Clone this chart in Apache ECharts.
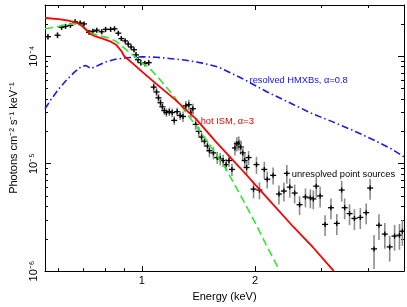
<!DOCTYPE html>
<html><head><meta charset="utf-8">
<script src="https://cdn.jsdelivr.net/npm/echarts@6/dist/echarts.min.js"></script>
<style>html,body{margin:0;padding:0;background:#fff}#c{width:407px;height:307px}</style>
</head><body><div id="c"></div>
<script>
// ---- axis ranges & ticks ----
const xRange = [0.553, 4.97];
const yRange = [1e-6, 3e-4];
const xLabelTicks = [1, 2];
const xMajorTicks = [1, 2];
const xMinorTicks = [0.6, 0.7, 0.8, 0.9, 3, 4];
const yLabelTicks = [1e-6, 1e-5, 1e-4];
const yMajorTicks = [1e-6, 1e-5, 1e-4];
const yMinorTicks = [2e-6,3e-6,4e-6,5e-6,6e-6,7e-6,8e-6,9e-6,2e-5,3e-5,4e-5,5e-5,6e-5,7e-5,8e-5,9e-5,2e-4];

// ---- data points (keV, photons cm^-2 s^-1 keV^-1, relative error) ----
const dataE = [0.563,0.597,0.612,0.627,0.646,0.665,0.686,0.702,0.724,0.741,0.759,0.782,0.801,0.826,0.846,0.866,0.882,0.903,0.920,0.936,0.953,0.965,0.976,0.994,1.018,1.043,1.075,1.094,1.107,1.121,1.134,1.148,1.162,1.183,1.204,1.219,1.241,1.264,1.286,1.309,1.333,1.349,1.366,1.390,1.416,1.441,1.467,1.494,1.512,1.549,1.586,1.615,1.644,1.674,1.704,1.735,1.767,1.788,1.810,1.831,1.854,1.876,1.898,1.921,1.980,2.016,2.053,2.115,2.153,2.232,2.313,2.384,2.427,2.471,2.546,2.624,2.720,2.803,2.854,2.906,2.976,3.067,3.179,3.295,3.395,3.457,3.562,3.670,3.805,3.944,4.040,4.138,4.264,4.420,4.554,4.692,4.834,4.921];
const dataF = [1.52e-4,1.57e-4,1.86e-4,1.90e-4,1.94e-4,2.09e-4,2.04e-4,2.00e-4,1.67e-4,1.71e-4,1.75e-4,1.69e-4,1.78e-4,1.78e-4,1.80e-4,1.64e-4,1.46e-4,1.39e-4,1.30e-4,1.22e-4,1.15e-4,1.03e-4,9.29e-5,8.72e-5,8.54e-5,8.72e-5,5.16e-5,4.65e-5,4.10e-5,3.69e-5,3.39e-5,3.12e-5,2.99e-5,3.05e-5,2.99e-5,2.53e-5,3.05e-5,2.81e-5,2.75e-5,3.46e-5,3.54e-5,2.99e-5,3.25e-5,2.32e-5,2.00e-5,1.77e-5,1.62e-5,1.46e-5,1.32e-5,1.26e-5,1.14e-5,1.11e-5,1.07e-5,9.81e-6,1.07e-5,8.84e-6,1.40e-5,1.53e-5,1.56e-5,1.43e-5,1.26e-5,1.07e-5,9.21e-6,1.14e-5,5.80e-6,9.81e-6,5.68e-6,8.84e-6,7.16e-6,7.79e-6,5.22e-6,5.56e-6,8.12e-6,6.05e-6,5.33e-6,4.15e-6,4.90e-6,4.80e-6,4.70e-6,6.18e-6,5.01e-6,2.72e-6,3.89e-6,2.78e-6,5.68e-6,3.89e-6,3.43e-6,3.09e-6,3.16e-6,3.50e-6,5.93e-6,1.61e-6,2.67e-6,2.21e-6,1.68e-6,2.12e-6,2.16e-6,2.35e-6];
const dataErr = [0.065,0.065,0.05,0.05,0.05,0.05,0.05,0.05,0.05,0.05,0.05,0.05,0.05,0.05,0.05,0.05,0.05,0.05,0.05,0.05,0.05,0.065,0.065,0.065,0.065,0.065,0.09,0.09,0.09,0.09,0.09,0.09,0.09,0.09,0.09,0.09,0.09,0.09,0.11,0.11,0.11,0.11,0.11,0.11,0.11,0.11,0.11,0.11,0.13,0.13,0.13,0.13,0.13,0.13,0.13,0.13,0.15,0.15,0.15,0.15,0.15,0.15,0.15,0.15,0.18,0.18,0.18,0.18,0.18,0.18,0.2,0.2,0.2,0.2,0.2,0.2,0.2,0.2,0.2,0.22,0.22,0.22,0.22,0.22,0.22,0.22,0.22,0.22,0.22,0.22,0.22,0.35,0.27,0.27,0.27,0.27,0.27,0.27];

// ---- hot ISM model (red) ----
const ismE = [0.553,0.601,0.638,0.669,0.694,0.711,0.724,0.746,0.787,0.826,0.856,0.882,0.898,0.947,1.006,1.094,1.219,1.390,1.567,1.820,2.140,2.531,2.854,3.236];
const ismF = [2.27e-4,2.22e-4,2.15e-4,2.06e-4,1.92e-4,1.78e-4,1.64e-4,1.55e-4,1.46e-4,1.37e-4,1.27e-4,1.12e-4,1.00e-4,8.54e-5,7.07e-5,5.50e-5,4.01e-5,2.63e-5,1.62e-5,9.21e-6,4.90e-6,2.56e-6,1.65e-6,1.00e-6];

// ---- green dashed model ----
const modelE = [0.553,0.583,0.619,0.661,0.686,0.706,0.728,0.764,0.811,0.851,0.882,0.914,0.953,1.000,1.062,1.127,1.197,1.271,1.390,1.521,1.664,1.820,1.992,2.140,2.313];
const modelF = [1.80e-4,1.86e-4,1.94e-4,2.02e-4,1.96e-4,1.78e-4,1.66e-4,1.57e-4,1.49e-4,1.39e-4,1.26e-4,1.13e-4,1.01e-4,8.72e-5,7.37e-5,5.85e-5,4.55e-5,3.46e-5,2.27e-5,1.46e-5,9.21e-6,5.22e-6,2.90e-6,1.75e-6,1.04e-6];

// ---- resolved HMXBs (blue dash-dot) ----
const hmxbE = [0.553,0.573,0.601,0.630,0.661,0.690,0.711,0.732,0.764,0.806,0.851,0.914,1.000,1.094,1.197,1.309,1.450,1.596,1.843,2.153,2.531,2.854,3.217,3.626,4.088,4.608,5.0];
const hmxbF = [3.25e-5,3.93e-5,4.95e-5,5.98e-5,7.07e-5,8.02e-5,8.19e-5,7.69e-5,8.19e-5,8.91e-5,9.39e-5,9.69e-5,9.90e-5,9.79e-5,9.49e-5,9.19e-5,8.63e-5,7.94e-5,6.23e-5,4.65e-5,3.54e-5,2.89e-5,2.45e-5,2.05e-5,1.69e-5,1.37e-5,1.14e-5];

// ---- annotations ----
const noteText = ['resolved HMXBs, \u03b1=0.8', 'hot ISM, \u03b1=3', 'unresolved point sources'];
const noteE = [1.933, 1.433, 2.501];
const noteF = [5.98e-5, 2.45e-5, 7.87e-6];
const noteColor = ['#1010f0', '#f00000', '#000000'];

const L = Math.log10;
const FONT = 'Liberation Sans, Arial, Helvetica, sans-serif';
const supMap = {'-':'\u207b','0':'\u2070','1':'\u00b9','2':'\u00b2','3':'\u00b3','4':'\u2074','5':'\u2075','6':'\u2076','7':'\u2077','8':'\u2078','9':'\u2079'};
const sup = s => String(s).split('').map(c => supMap[c]).join('');

function xAx(pos, ticks, len, showLine, showLabel) {
  return {
    type: 'value', position: pos, gridIndex: 0,
    min: L(xRange[0]), max: L(xRange[1]),
    splitLine: {show: false},
    axisLine: {show: showLine, onZero: false, lineStyle: {color: '#000', width: 1}},
    axisTick: {show: true, inside: true, length: len, customValues: ticks.map(L), lineStyle: {color: '#000', width: 1}},
    axisLabel: {show: showLabel, customValues: xLabelTicks.map(L), margin: 4,
      color: '#000', fontSize: 11, fontFamily: FONT,
      formatter: v => String(Math.round(Math.pow(10, v)))},
    name: showLabel ? 'Energy (keV)' : '', nameLocation: 'middle', nameGap: 17,
    nameTextStyle: {color: '#000', fontSize: 11, fontFamily: FONT}
  };
}
function yAx(pos, ticks, len, showLine, showLabel) {
  return {
    type: 'value', position: pos, gridIndex: 0,
    min: L(yRange[0]), max: L(yRange[1]),
    splitLine: {show: false},
    axisLine: {show: showLine, onZero: false, lineStyle: {color: '#000', width: 1}},
    axisTick: {show: true, inside: true, length: len, customValues: ticks.map(L), lineStyle: {color: '#000', width: 1}},
    axisLabel: {show: showLabel, customValues: yLabelTicks.map(L), margin: 6, rotate: 90,
      color: '#000', fontSize: 11, fontFamily: FONT,
      formatter: v => '10' + sup(Math.round(v))},
    name: showLabel ? 'Photons cm\u207b\u00b2 s\u207b\u00b9 keV\u207b\u00b9' : '',
    nameLocation: 'middle', nameGap: 26, nameRotate: 90,
    nameTextStyle: {color: '#000', fontSize: 11, fontFamily: FONT}
  };
}

const pts = dataE.map((e, i) => [L(e), L(dataF[i]), L(dataF[i] * (1 - dataErr[i])), L(dataF[i] * (1 + dataErr[i]))]);

const chart = echarts.init(document.getElementById('c'), null, {renderer: 'canvas'});
chart.setOption({
  animation: false,
  backgroundColor: '#fff',
  grid: {left: 37, right: 3, top: 5, bottom: 31, containLabel: false},
  xAxis: [
    xAx('bottom', xMinorTicks, 3, true, true),
    xAx('bottom', xMajorTicks, 5, false, false),
    xAx('top', xMinorTicks, 3, true, false),
    xAx('top', xMajorTicks, 5, false, false)
  ],
  yAxis: [
    yAx('left', yMinorTicks, 3, true, true),
    yAx('left', yMajorTicks, 6, false, false),
    yAx('right', yMinorTicks, 3, true, false),
    yAx('right', yMajorTicks, 6, false, false)
  ],
  series: [
    {
      type: 'custom', xAxisIndex: 0, yAxisIndex: 0, clip: true,
      data: pts, encode: {x: 0, y: 1},
      renderItem: (params, api) => {
        const e = api.value(0);
        const c = api.coord([e, api.value(1)]);
        const lo = api.coord([e, api.value(2)]);
        const hi = api.coord([e, api.value(3)]);
        return {type: 'group', children: [
          {type: 'line', shape: {x1: c[0], y1: hi[1], x2: c[0], y2: lo[1]}, style: {stroke: '#8c8c8c', lineWidth: 1.6}},
          {type: 'line', shape: {x1: c[0] - 3, y1: c[1], x2: c[0] + 3, y2: c[1]}, style: {stroke: '#000', lineWidth: 1.3}},
          {type: 'line', shape: {x1: c[0], y1: c[1] - 2.5, x2: c[0], y2: c[1] + 2.5}, style: {stroke: '#000', lineWidth: 1.3}}
        ]};
      },
      z: 3
    },
    {
      type: 'line', xAxisIndex: 0, yAxisIndex: 0, clip: true, showSymbol: false, symbol: 'none',
      data: hmxbE.map((e, i) => [L(e), L(hmxbF[i])]),
      lineStyle: {color: '#1a1aee', width: 1.6, type: [7, 3, 1.5, 3]}, z: 4
    },
    {
      type: 'line', xAxisIndex: 0, yAxisIndex: 0, clip: true, showSymbol: false, symbol: 'none',
      data: modelE.map((e, i) => [L(e), L(modelF[i])]),
      lineStyle: {color: '#33e633', width: 1.6, type: [8, 4]}, z: 5
    },
    {
      type: 'line', xAxisIndex: 0, yAxisIndex: 0, clip: true, showSymbol: false, symbol: 'none',
      data: ismE.map((e, i) => [L(e), L(ismF[i])]),
      lineStyle: {color: '#ff0000', width: 1.8}, z: 6
    },
    {
      type: 'scatter', xAxisIndex: 0, yAxisIndex: 0, symbolSize: 0, silent: true,
      itemStyle: {opacity: 1},
      data: noteE.map((e, i) => ({
        value: [L(e), L(noteF[i])],
        label: {show: true, position: 'right', distance: 0, formatter: noteText[i],
          color: noteColor[i], opacity: 1, fontSize: 9.3, fontFamily: FONT}
      })),
      z: 7
    }
  ]
});
</script>
</body></html>
